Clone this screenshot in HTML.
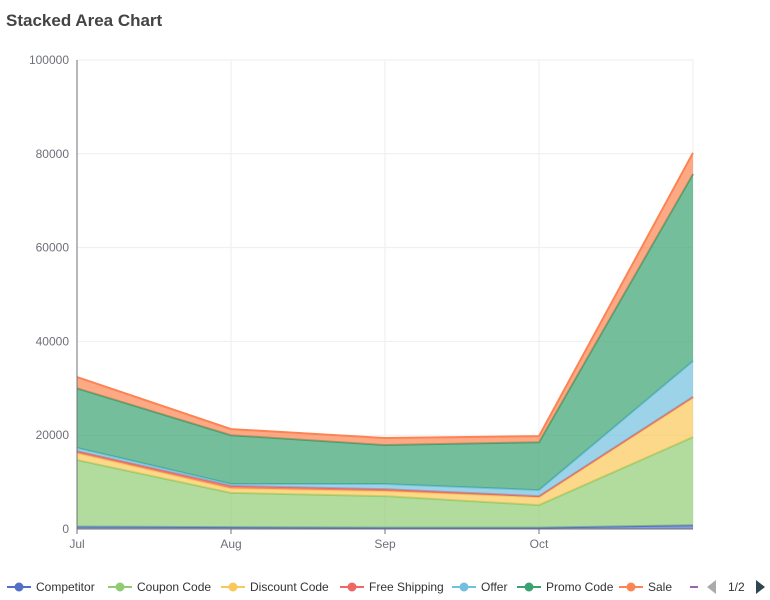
<!DOCTYPE html>
<html><head><meta charset="utf-8"><style>
body{margin:0;background:#fff;font-family:"Liberation Sans",sans-serif;}
#t{position:absolute;left:6px;top:11px;font-size:17px;font-weight:bold;color:#444;}
</style></head><body>
<div id="t">Stacked Area Chart</div>
<svg id="c" width="770" height="600" style="position:absolute;left:0;top:0"></svg>
<script>
const categories=['Jul','Aug','Sep','Oct','Nov'];
const seriesNames=['Competitor','Coupon Code','Discount Code','Free Shipping','Offer','Promo Code','Sale'];
const competitor=[500,400,300,300,800];
const couponCode=[14200,7300,6700,4800,18800];
const discountCode=[1500,1000,1100,1700,8400];
const freeShipping=[400,500,400,200,200];
const offer=[700,400,1100,1300,7600];
const promoCode=[12700,10400,8300,10200,39900];
const sale=[2400,1300,1500,1300,4500];
const yTicks=[0,20000,40000,60000,80000,100000];
const colors=['#5470c6','#91cc75','#fac858','#ee6666','#73c0de','#3ba272','#fc8452'];
const series=[competitor,couponCode,discountCode,freeShipping,offer,promoCode,sale];
const svg=document.getElementById('c');const NS='http://www.w3.org/2000/svg';
const x0=77,x1=693,y0=529,y1=60;
const xs=i=>x0+i*(x1-x0)/(categories.length-1);
const ys=v=>y0-v/100000*(y0-y1);
function el(t,a,p){const e=document.createElementNS(NS,t);for(const k in a)e.setAttribute(k,a[k]);(p||svg).appendChild(e);return e;}
yTicks.forEach(v=>{const g=el('line',{x1:x0,x2:x1,y1:ys(v),y2:ys(v),stroke:'#eee'});

const t=el('text',{x:69,y:ys(v)+4,'text-anchor':'end','font-size':12,fill:'#6e7079'});t.textContent=v;
});
categories.forEach((c,i)=>{if(i>0){const g=el('line',{x1:xs(i),x2:xs(i),y1:y1,y2:y0,stroke:'#eee'});}
if(i<categories.length-1){const t=el('text',{x:xs(i),y:548,'text-anchor':'middle','font-size':12,fill:'#6e7079'});t.textContent=c;

el('line',{x1:xs(i),x2:xs(i),y1:y0,y2:y0+5,stroke:'#6e7079'});}});
let base=categories.map(()=>0);
series.forEach((s,k)=>{const top=base.map((b,i)=>b+s[i]);
let d='M'+top.map((v,i)=>xs(i)+','+ys(v)).join('L');
for(let i=categories.length-1;i>=0;i--)d+='L'+xs(i)+','+ys(base[i]);
const a=el('path',{d:d+'Z',fill:colors[k],'fill-opacity':0.7});

const l=el('polyline',{points:top.map((v,i)=>xs(i)+','+ys(v)).join(' '),fill:'none',stroke:colors[k],'stroke-width':2});

base=top;});
el('line',{x1:x0,x2:x0,y1:y1,y2:y0,stroke:'#6e7079'});
el('line',{x1:x0,x2:x1,y1:y0,y2:y0,stroke:'#6e7079'});
const lx=[7,108,221,340,452,517,619];
seriesNames.forEach((n,k)=>{const g=el('g',{});
el('line',{x1:lx[k],x2:lx[k]+24,y1:587,y2:587,stroke:colors[k],'stroke-width':2},g);
el('circle',{cx:lx[k]+12,cy:587,r:4.5,fill:colors[k]},g);
const t=el('text',{x:lx[k]+29,y:591,'font-size':12,fill:'#333'},g);t.textContent=n;});
el('line',{x1:690,x2:698,y1:587,y2:587,stroke:'#9a60b4','stroke-width':2});
const p=el('polygon',{points:'716,580 716,594 707,587',fill:'#aaa'});
const pt=el('text',{x:728,y:591,'font-size':12,fill:'#333'});pt.textContent='1/2';
const n=el('polygon',{points:'756,580 756,594 765,587',fill:'#2f4554'});
</script></body></html>
